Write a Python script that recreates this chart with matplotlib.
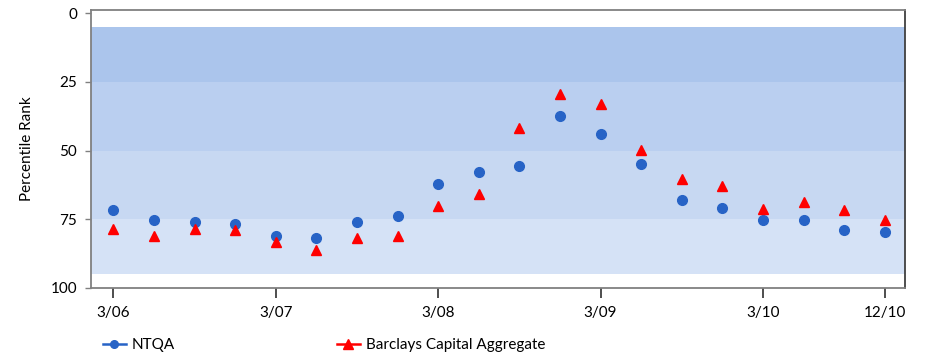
import matplotlib
matplotlib.use("Agg")
import matplotlib.pyplot as plt
from matplotlib.lines import Line2D

plt.rcParams['font.family'] = ['Lato', 'DejaVu Sans']

quarters = ["3/06", "6/06", "9/06", "12/06", "3/07", "6/07", "9/07", "12/07",
            "3/08", "6/08", "9/08", "12/08", "3/09", "6/09", "9/09", "12/09",
            "3/10", "6/10", "9/10", "12/10"]
ntqa = [71.7, 75.4, 76.0, 76.8, 81.1, 81.8, 76.0, 73.9, 62.3, 57.9,
        55.6, 37.5, 44.0, 54.8, 68.1, 71.0, 75.4, 75.4, 78.9, 79.6]
barclays = [78.4, 81.2, 78.4, 79.0, 83.2, 86.3, 81.8, 81.2, 70.3, 65.9,
            41.9, 29.5, 33.1, 49.9, 60.2, 63.0, 71.1, 68.7, 71.7, 75.4]
tick_labels = ["3/06", "3/07", "3/08", "3/09", "3/10", "12/10"]
bands = [(5, 25), (25, 50), (50, 75), (75, 95)]
band_colors = ["#abc5ec", "#bacff0", "#c7d8f2", "#d5e2f6"]

fig = plt.figure(figsize=(9.3, 3.57), dpi=100)
ax = fig.add_axes([91/930, 1-288/357, (905-91)/930, (288-10)/357])

x = list(range(len(quarters)))
for (lo, hi), c in zip(bands, band_colors):
    ax.axhspan(lo, hi, color=c, lw=0, zorder=0)

ax.plot(x, ntqa, 'o', color="#2763c6", ms=7, lw=0, zorder=3)
ax.plot(x, barclays, '^', color="#ff0000", ms=7, lw=0, zorder=3)

ax.set_xlim(-0.55, 19.5)
ax.set_ylim(100, -1.1)
ax.set_yticks([0, 25, 50, 75, 100])
ax.set_yticklabels(["0", "25", "50", "75", "100"], fontsize=11)
ax.set_xticks([quarters.index(t) for t in tick_labels])
ax.set_xticklabels(tick_labels, fontsize=11)
ax.tick_params(axis='x', length=7, width=1.3, color="#404040", pad=6)
ax.tick_params(axis='y', length=4, width=1, color="#808080", pad=6)
for s in ["left", "bottom", "top"]:
    ax.spines[s].set_color("#808080")
    ax.spines[s].set_linewidth(1.3)
ax.spines["right"].set_color("#404040")
ax.spines["right"].set_linewidth(1.3)
ax.set_ylabel("Percentile Rank", fontsize=11, labelpad=12)

handles = [Line2D([], [], color="#2763c6", marker='o', ms=5.5, lw=1.8),
           Line2D([], [], color="#ff0000", marker='^', ms=6.5, lw=1.8)]
fig.legend(handles, ["NTQA", "Barclays Capital Aggregate"], loc="center left",
           bbox_to_anchor=(89/930, 1-345/357), ncol=2, frameon=False,
           fontsize=11, handlelength=1.5, handletextpad=0.4, columnspacing=10.6)

fig.savefig("out.png", dpi=100)
